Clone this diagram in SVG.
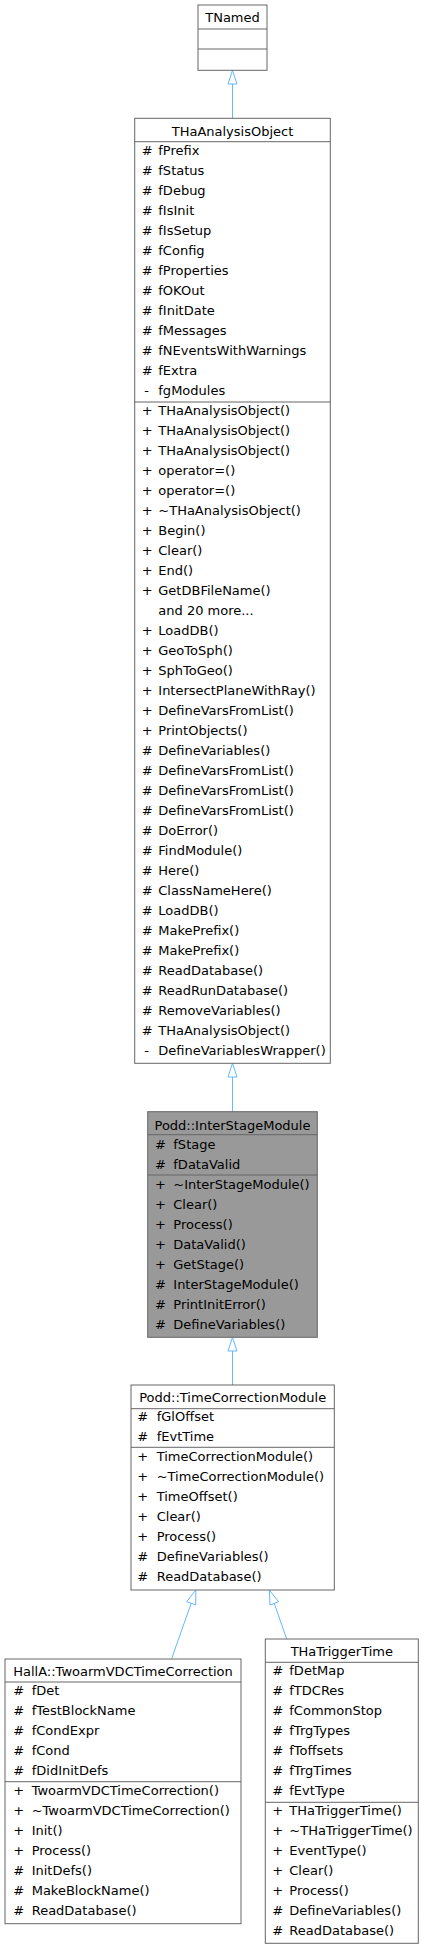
<svg xmlns="http://www.w3.org/2000/svg" width="424" height="1949" viewBox="0 0 424 1949">
<style>
.box{fill:#ffffff;stroke:#666666;stroke-width:1}
.hl{fill:#999999;stroke:#666666;stroke-width:1}
.sep{stroke:#666666;stroke-width:1}
text{font-family:"DejaVu Sans","Liberation Sans",sans-serif;font-size:13px;fill:#000000}
.t{text-anchor:middle}
.edge{stroke:#63b8ff;stroke-width:1;fill:none}
.head{fill:#ffffff;stroke:#63b8ff;stroke-width:1}
</style>
<rect x="0" y="0" width="424" height="1949" fill="#ffffff"/>
<g id="connectors">
  <path class="edge" d="M232.5,84 L232.5,118.3"/>
  <polygon class="head" points="232.5,70.3 228,84 237,84"/>
  <path class="edge" d="M232.5,1077 L232.5,1111.7"/>
  <polygon class="head" points="232.5,1063.3 228,1077 237,1077"/>
  <path class="edge" d="M232.5,1351 L232.5,1385"/>
  <polygon class="head" points="232.5,1337.3 228,1351 237,1351"/>
  <path class="edge" d="M191.2,1603.3 L171.7,1658.5"/>
  <polygon class="head" points="195.8,1590 186.7,1601.7 195.7,1605"/>
  <path class="edge" d="M274.2,1603.3 L286.7,1639"/>
  <polygon class="head" points="269.3,1590 270,1605 278.6,1601.7"/>
</g>
<g id="TNamed">
  <rect class="box" x="198" y="5" width="69" height="65.3"/>
  <line class="sep" x1="198" y1="29" x2="267" y2="29"/>
  <line class="sep" x1="198" y1="49" x2="267" y2="49"/>
  <text class="t" x="232.5" y="21.5">TNamed</text>
</g>
<g id="THaAnalysisObject">
  <rect class="box" x="134.7" y="118.3" width="195.6" height="945"/>
  <line class="sep" x1="134.7" y1="141.7" x2="330.3" y2="141.7"/>
  <line class="sep" x1="134.7" y1="402" x2="330.3" y2="402"/>
  <text class="t" x="232.5" y="135.5">THaAnalysisObject</text>
  <g>
    <text x="141.7" y="155.3">#</text><text x="158.3" y="155.3">fPrefix</text>
    <text x="141.7" y="175.3">#</text><text x="158.3" y="175.3">fStatus</text>
    <text x="141.7" y="195.3">#</text><text x="158.3" y="195.3">fDebug</text>
    <text x="141.7" y="215.3">#</text><text x="158.3" y="215.3">fIsInit</text>
    <text x="141.7" y="235.3">#</text><text x="158.3" y="235.3">fIsSetup</text>
    <text x="141.7" y="255.3">#</text><text x="158.3" y="255.3">fConfig</text>
    <text x="141.7" y="275.3">#</text><text x="158.3" y="275.3">fProperties</text>
    <text x="141.7" y="295.3">#</text><text x="158.3" y="295.3">fOKOut</text>
    <text x="141.7" y="315.3">#</text><text x="158.3" y="315.3">fInitDate</text>
    <text x="141.7" y="335.3">#</text><text x="158.3" y="335.3">fMessages</text>
    <text x="141.7" y="355.3">#</text><text x="158.3" y="355.3">fNEventsWithWarnings</text>
    <text x="141.7" y="375.3">#</text><text x="158.3" y="375.3">fExtra</text>
    <text x="144.3" y="395.3">-</text><text x="158.3" y="395.3">fgModules</text>
  </g>
  <g>
    <text x="141.7" y="415.3">+</text><text x="158.3" y="415.3">THaAnalysisObject()</text>
    <text x="141.7" y="435.3">+</text><text x="158.3" y="435.3">THaAnalysisObject()</text>
    <text x="141.7" y="455.3">+</text><text x="158.3" y="455.3">THaAnalysisObject()</text>
    <text x="141.7" y="475.3">+</text><text x="158.3" y="475.3">operator=()</text>
    <text x="141.7" y="495.3">+</text><text x="158.3" y="495.3">operator=()</text>
    <text x="141.7" y="515.3">+</text><text x="158.3" y="515.3">~THaAnalysisObject()</text>
    <text x="141.7" y="535.3">+</text><text x="158.3" y="535.3">Begin()</text>
    <text x="141.7" y="555.3">+</text><text x="158.3" y="555.3">Clear()</text>
    <text x="141.7" y="575.3">+</text><text x="158.3" y="575.3">End()</text>
    <text x="141.7" y="595.3">+</text><text x="158.3" y="595.3">GetDBFileName()</text>
    <text x="158.3" y="615.3">and 20 more...</text>
    <text x="141.7" y="635.3">+</text><text x="158.3" y="635.3">LoadDB()</text>
    <text x="141.7" y="655.3">+</text><text x="158.3" y="655.3">GeoToSph()</text>
    <text x="141.7" y="675.3">+</text><text x="158.3" y="675.3">SphToGeo()</text>
    <text x="141.7" y="695.3">+</text><text x="158.3" y="695.3">IntersectPlaneWithRay()</text>
    <text x="141.7" y="715.3">+</text><text x="158.3" y="715.3">DefineVarsFromList()</text>
    <text x="141.7" y="735.3">+</text><text x="158.3" y="735.3">PrintObjects()</text>
    <text x="141.7" y="755.3">#</text><text x="158.3" y="755.3">DefineVariables()</text>
    <text x="141.7" y="775.3">#</text><text x="158.3" y="775.3">DefineVarsFromList()</text>
    <text x="141.7" y="795.3">#</text><text x="158.3" y="795.3">DefineVarsFromList()</text>
    <text x="141.7" y="815.3">#</text><text x="158.3" y="815.3">DefineVarsFromList()</text>
    <text x="141.7" y="835.3">#</text><text x="158.3" y="835.3">DoError()</text>
    <text x="141.7" y="855.3">#</text><text x="158.3" y="855.3">FindModule()</text>
    <text x="141.7" y="875.3">#</text><text x="158.3" y="875.3">Here()</text>
    <text x="141.7" y="895.3">#</text><text x="158.3" y="895.3">ClassNameHere()</text>
    <text x="141.7" y="915.3">#</text><text x="158.3" y="915.3">LoadDB()</text>
    <text x="141.7" y="935.3">#</text><text x="158.3" y="935.3">MakePrefix()</text>
    <text x="141.7" y="955.3">#</text><text x="158.3" y="955.3">MakePrefix()</text>
    <text x="141.7" y="975.3">#</text><text x="158.3" y="975.3">ReadDatabase()</text>
    <text x="141.7" y="995.3">#</text><text x="158.3" y="995.3">ReadRunDatabase()</text>
    <text x="141.7" y="1015.3">#</text><text x="158.3" y="1015.3">RemoveVariables()</text>
    <text x="141.7" y="1035.3">#</text><text x="158.3" y="1035.3">THaAnalysisObject()</text>
    <text x="144.3" y="1055.3">-</text><text x="158.3" y="1055.3">DefineVariablesWrapper()</text>
  </g>
</g>
<g id="InterStageModule">
  <rect class="hl" x="147.7" y="1111.7" width="169.6" height="225.6"/>
  <line class="sep" x1="147.7" y1="1134.7" x2="317.3" y2="1134.7"/>
  <line class="sep" x1="147.7" y1="1175" x2="317.3" y2="1175"/>
  <text class="t" x="232.5" y="1129.5">Podd::InterStageModule</text>
  <text x="155" y="1148.7">#</text><text x="173.3" y="1148.7">fStage</text>
  <text x="155" y="1168.7">#</text><text x="173.3" y="1168.7">fDataValid</text>
  <text x="155" y="1188.7">+</text><text x="173.3" y="1188.7">~InterStageModule()</text>
  <text x="155" y="1208.7">+</text><text x="173.3" y="1208.7">Clear()</text>
  <text x="155" y="1228.7">+</text><text x="173.3" y="1228.7">Process()</text>
  <text x="155" y="1248.7">+</text><text x="173.3" y="1248.7">DataValid()</text>
  <text x="155" y="1268.7">+</text><text x="173.3" y="1268.7">GetStage()</text>
  <text x="155" y="1288.7">#</text><text x="173.3" y="1288.7">InterStageModule()</text>
  <text x="155" y="1308.7">#</text><text x="173.3" y="1308.7">PrintInitError()</text>
  <text x="155" y="1328.7">#</text><text x="173.3" y="1328.7">DefineVariables()</text>
</g>
<g id="TimeCorrectionModule">
  <rect class="box" x="131" y="1385" width="203.3" height="205"/>
  <line class="sep" x1="131" y1="1408.7" x2="334.3" y2="1408.7"/>
  <line class="sep" x1="131" y1="1447.3" x2="334.3" y2="1447.3"/>
  <text class="t" x="232.7" y="1401.5">Podd::TimeCorrectionModule</text>
  <text x="137.3" y="1420.7">#</text><text x="156.7" y="1420.7">fGlOffset</text>
  <text x="137.3" y="1440.7">#</text><text x="156.7" y="1440.7">fEvtTime</text>
  <text x="137.3" y="1461.3">+</text><text x="156.7" y="1461.3">TimeCorrectionModule()</text>
  <text x="137.3" y="1481.3">+</text><text x="156.7" y="1481.3">~TimeCorrectionModule()</text>
  <text x="137.3" y="1501.3">+</text><text x="156.7" y="1501.3">TimeOffset()</text>
  <text x="137.3" y="1521.3">+</text><text x="156.7" y="1521.3">Clear()</text>
  <text x="137.3" y="1541.3">+</text><text x="156.7" y="1541.3">Process()</text>
  <text x="137.3" y="1561.3">#</text><text x="156.7" y="1561.3">DefineVariables()</text>
  <text x="137.3" y="1581.3">#</text><text x="156.7" y="1581.3">ReadDatabase()</text>
</g>
<g id="TwoarmVDCTimeCorrection">
  <rect class="box" x="5" y="1659" width="236" height="264.7"/>
  <line class="sep" x1="5" y1="1682" x2="241" y2="1682"/>
  <line class="sep" x1="5" y1="1781.7" x2="241" y2="1781.7"/>
  <text class="t" x="123" y="1675.5">HallA::TwoarmVDCTimeCorrection</text>
  <text x="13.3" y="1695.3">#</text><text x="31.7" y="1695.3">fDet</text>
  <text x="13.3" y="1715.3">#</text><text x="31.7" y="1715.3">fTestBlockName</text>
  <text x="13.3" y="1735.3">#</text><text x="31.7" y="1735.3">fCondExpr</text>
  <text x="13.3" y="1755.3">#</text><text x="31.7" y="1755.3">fCond</text>
  <text x="13.3" y="1775.3">#</text><text x="31.7" y="1775.3">fDidInitDefs</text>
  <text x="13.3" y="1795.3">+</text><text x="31.7" y="1795.3">TwoarmVDCTimeCorrection()</text>
  <text x="13.3" y="1815.3">+</text><text x="31.7" y="1815.3">~TwoarmVDCTimeCorrection()</text>
  <text x="13.3" y="1835.3">+</text><text x="31.7" y="1835.3">Init()</text>
  <text x="13.3" y="1855.3">+</text><text x="31.7" y="1855.3">Process()</text>
  <text x="13.3" y="1875.3">#</text><text x="31.7" y="1875.3">InitDefs()</text>
  <text x="13.3" y="1895.3">#</text><text x="31.7" y="1895.3">MakeBlockName()</text>
  <text x="13.3" y="1915.3">#</text><text x="31.7" y="1915.3">ReadDatabase()</text>
</g>
<g id="THaTriggerTime">
  <rect class="box" x="265.3" y="1639" width="153" height="304.3"/>
  <line class="sep" x1="265.3" y1="1662.3" x2="418.3" y2="1662.3"/>
  <line class="sep" x1="265.3" y1="1802.3" x2="418.3" y2="1802.3"/>
  <text class="t" x="341.8" y="1655.5">THaTriggerTime</text>
  <text x="272.3" y="1675.3">#</text><text x="289.3" y="1675.3">fDetMap</text>
  <text x="272.3" y="1695.3">#</text><text x="289.3" y="1695.3">fTDCRes</text>
  <text x="272.3" y="1715.3">#</text><text x="289.3" y="1715.3">fCommonStop</text>
  <text x="272.3" y="1735.3">#</text><text x="289.3" y="1735.3">fTrgTypes</text>
  <text x="272.3" y="1755.3">#</text><text x="289.3" y="1755.3">fToffsets</text>
  <text x="272.3" y="1775.3">#</text><text x="289.3" y="1775.3">fTrgTimes</text>
  <text x="272.3" y="1795.3">#</text><text x="289.3" y="1795.3">fEvtType</text>
  <text x="272.3" y="1815.3">+</text><text x="289.3" y="1815.3">THaTriggerTime()</text>
  <text x="272.3" y="1835.3">+</text><text x="289.3" y="1835.3">~THaTriggerTime()</text>
  <text x="272.3" y="1855.3">+</text><text x="289.3" y="1855.3">EventType()</text>
  <text x="272.3" y="1875.3">+</text><text x="289.3" y="1875.3">Clear()</text>
  <text x="272.3" y="1895.3">+</text><text x="289.3" y="1895.3">Process()</text>
  <text x="272.3" y="1915.3">#</text><text x="289.3" y="1915.3">DefineVariables()</text>
  <text x="272.3" y="1935.3">#</text><text x="289.3" y="1935.3">ReadDatabase()</text>
</g>
</svg>
